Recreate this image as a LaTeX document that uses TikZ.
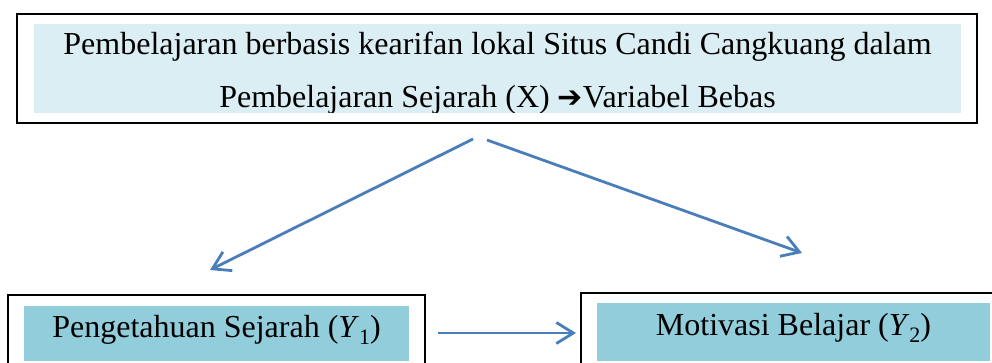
\documentclass[tikz,border=0pt]{standalone}
\usepackage{fontspec}
\setmainfont{Liberation Serif}
\newfontfamily\arrowfont{DejaVu Sans}
\usetikzlibrary{arrows.meta}
\definecolor{lightfill}{HTML}{DBEEF4}
\definecolor{darkfill}{HTML}{92CDDC}
\definecolor{arrowblue}{HTML}{4A7EBB}
\newcommand{\varsub}[2]{\textit{#1}\raisebox{-0.22em}{\fontsize{22}{24}\selectfont #2}}
\begin{document}
\begin{tikzpicture}[x=1pt,y=-1pt,
  every node/.style={inner sep=0pt, outer sep=0pt},
  outerbox/.style={draw=black, rectangle, anchor=north west},
  fillbox/.style={rectangle, anchor=north west},
  label text/.style={anchor=base, font=\fontsize{32}{38}\selectfont},
  conn/.style={draw=arrowblue, line width=2.8pt, -{Straight Barb[length=17pt,width=21pt]}}]
\useasboundingbox (0,0) rectangle (992,363);
\clip (0,0) rectangle (992,363);
% top box
\node[outerbox, line width=2.2pt, minimum width=960pt, minimum height=109pt] (topbox) at (17,14) {};
\node[fillbox, fill=lightfill, minimum width=927pt, minimum height=89pt] (topfill) at (34,24) {};
\begin{scope}
  \clip (34,24) rectangle (961,113);
  \node[label text] (topline1) at (497.5,55) {Pembelajaran berbasis kearifan lokal Situs Candi Cangkuang dalam};
  \node[label text] (topline2) at (497.5,108) {Pembelajaran Sejarah (X) {\arrowfont\fontsize{30}{32}\selectfont ➔}Variabel Bebas};
\end{scope}
% bottom left box
\node[outerbox, line width=1.6pt, minimum width=417pt, minimum height=90pt] (leftbox) at (8,295) {};
\node[fillbox, fill=darkfill, minimum width=385pt, minimum height=55pt] (leftfill) at (24,306) {};
\node[label text] (lefttext) at (216.5,337) {Pengetahuan Sejarah (\varsub{Y}{1})};
% bottom right box
\node[outerbox, line width=1.6pt, minimum width=440pt, minimum height=90pt] (rightbox) at (581,293) {};
\node[fillbox, fill=darkfill, minimum width=393pt, minimum height=58pt] (rightfill) at (597,303) {};
\node[label text] (righttext) at (793.5,335) {Motivasi Belajar (\varsub{Y}{2})};
% connectors
\coordinate (a1s) at (473,139);
\coordinate (a1e) at (210,270);
\coordinate (a2s) at (487,140);
\coordinate (a2e) at (802,253);
\coordinate (a3s) at (438,333);
\coordinate (a3e) at (576,333);
\draw[conn] (a1s) -- (a1e);
\draw[conn] (a2s) -- (a2e);
\draw[conn] (a3s) -- (a3e);
\end{tikzpicture}
\end{document}
